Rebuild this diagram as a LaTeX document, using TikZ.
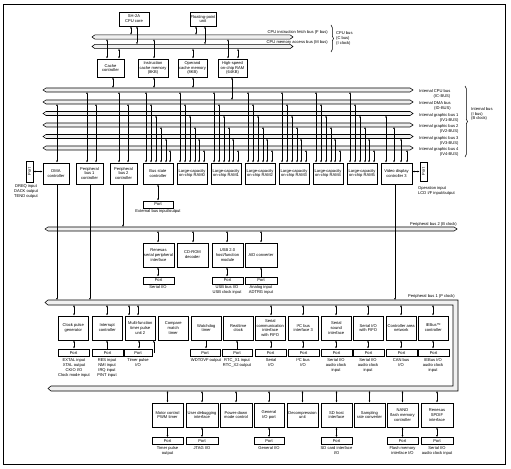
\documentclass[tikz,border=0pt]{standalone}
\usepackage{fontspec}
\usepackage{graphicx}
\setmainfont{Liberation Sans}
\usetikzlibrary{arrows.meta,decorations.pathreplacing,calc}
\newcommand\ft{\fontsize{4.1}{4.9}\selectfont}
\newcommand\bx[6]{\node[blk, minimum width={((#4)-(#2))*1bp}, minimum height={((#5)-(#3))*1bp}] (#1) at ({((#2)+(#4))/2},{((#3)+(#5))/2}) {#6};}
\newcommand\vl[4]{\draw[#1] (#2,0 |- #3) -- (#2,0 |- #4);}
\newcommand\hbus[4]{\draw[bus] (#1,#3) -- ({#1+3},{#3-#4}) -- ({#2-3},{#3-#4}) -- (#2,#3) -- ({#2-3},{#3+#4}) -- ({#1+3},{#3+#4}) -- cycle;}
\begin{document}
\begin{tikzpicture}[x=1bp,y=-1bp,
  blk/.style={draw, line width=0.8bp, align=center, inner sep=0pt, font=\ft},
  lbl/.style={align=center, anchor=north, inner sep=0pt, font=\ft},
  txt/.style={inner sep=0pt, font=\ft},
  dar/.style={line width=0.55bp, {Latex[length=2bp,width=1.8bp]}-{Latex[length=2bp,width=1.8bp]}},
  sar/.style={line width=0.55bp, -{Latex[length=2bp,width=1.8bp]}},
  bus/.style={draw, line width=0.55bp, fill=black!6},
  brc/.style={draw, line width=0.5bp, decorate, decoration={brace, amplitude=2.5bp}}]
\useasboundingbox (0,0) rectangle (511,469);
\fill[white] (0,0) rectangle (511,469);
\draw[line width=0.9bp] (3,4) rectangle (505,464);

% ---------- bus edge coordinates
\coordinate (Ft) at (0,34.8); \coordinate (Fb) at (0,39.2);
\coordinate (Mt) at (0,44.3); \coordinate (Mb) at (0,48.7);
\coordinate (B1t) at (0,88);  \coordinate (B1b) at (0,92);
\coordinate (B2t) at (0,100); \coordinate (B2b) at (0,104);
\coordinate (B3t) at (0,111.5); \coordinate (B3b) at (0,115.5);
\coordinate (B4t) at (0,123); \coordinate (B4b) at (0,127);
\coordinate (B5t) at (0,134.5); \coordinate (B5b) at (0,138.5);
\coordinate (B6t) at (0,146); \coordinate (B6b) at (0,150);
\coordinate (PB2t) at (0,227); \coordinate (PB2b) at (0,231);
\coordinate (P1t) at (0,300); \coordinate (P1b) at (0,305);
\coordinate (P1lb) at (0,391);

% ---------- buses
\hbus{92}{293}{37}{2.2}
\hbus{92}{293}{46.5}{2.2}
\foreach \y in {90,102,113.5,125,136.5,148}{\hbus{43}{413}{\y}{2}}
\hbus{45}{457}{229}{2}
\draw[bus] (45,302.5) -- (48,300) -- (458,300) -- (458,391) -- (51,391) -- (48,388.5) -- (51,386) -- (453,386) -- (453,305) -- (48,305) -- cycle;

% ---------- bus labels
\node[txt, anchor=east, fill=white] (lf) at (328,32.3) {CPU instruction fetch bus (F bus)};
\node[txt, anchor=east, fill=white] (lm) at (328,42.2) {CPU memory access bus (M bus)};
\draw[brc] (331,25) -- (331,52);
\node[txt, anchor=west, align=left] (lc) at (336,38.5) {CPU bus\\(C bus)\\(I clock)};
\node[txt, anchor=north west, align=right] (l1) at (419,89.5) {Internal CPU bus\\(IC-BUS)};
\node[txt, anchor=north west, align=right] (l2) at (419,101.5) {Internal DMA bus\\(ID-BUS)};
\node[txt, anchor=north west, align=right] (l3) at (419,113) {Internal graphic bus 1\\(IV1-BUS)};
\node[txt, anchor=north west, align=right] (l4) at (419,124.5) {Internal graphic bus 2\\(IV2-BUS)};
\node[txt, anchor=north west, align=right] (l5) at (419,136) {Internal graphic bus 3\\(IV3-BUS)};
\node[txt, anchor=north west, align=right] (l6) at (419,147.5) {Internal graphic bus 4\\(IV4-BUS)};
\draw[brc] (465,86) -- (465,157);
\node[txt, anchor=west, align=left] (li) at (471,114) {Internal bus\\(I bus)\\(B clock)};
\node[txt, anchor=south east] (lp2) at (457,226.5) {Peripheral bus 2 (B clock)};
\node[txt, anchor=south east] (lp1) at (455,298.5) {Peripheral bus 1 (P clock)};

% ---------- CPU area
\bx{core}{119}{12}{149}{26}{SH-2A\\CPU core}
\bx{fpu}{190}{12}{216}{26}{Floating-point\\unit}
\bx{cc}{97}{59}{124}{77}{Cache\\controller}
\bx{ic}{138}{59}{168}{77}{Instruction\\cache memory\\(8KB)}
\bx{oc}{178}{59}{207}{77}{Operand\\cache memory\\(8KB)}
\bx{hr}{218}{59}{247}{77}{High-speed\\on-chip RAM\\(64KB)}
\vl{dar}{131}{core.south}{Ft}
\vl{dar}{137}{core.south}{Mt}
\vl{dar}{196}{fpu.south}{Ft}
\vl{dar}{205}{fpu.south}{Mt}
\vl{dar}{107}{Fb}{cc.north}
\vl{dar}{119}{Mb}{cc.north}
\vl{dar}{154}{Fb}{ic.north}
\vl{dar}{193}{Mb}{oc.north}
\vl{dar}{228}{Fb}{hr.north}
\vl{dar}{238}{Mb}{hr.north}
\vl{dar}{113}{cc.south}{B1t}
\vl{dar}{154}{ic.south}{B1t}
\vl{dar}{193}{oc.south}{B1t}
\vl{dar}{232}{hr.south}{B2t}

% ---------- main row
\bx{lp}{26}{161}{33}{182}{\rotatebox{90}{Port}}
\bx{dma}{43}{163}{69}{184}{DMA\\controller}
\bx{pbc1}{76}{163}{103}{184}{Peripheral\\bus 1\\controller}
\bx{pbc2}{110}{163}{137}{184}{Peripheral\\bus 2\\controller}
\bx{bsc}{143}{163}{173}{184}{Bus state\\controller}
\foreach \a/\n in {177/0,211/1,245/2,279/3,313/4,347/5}{
  \bx{ram\n}{\a}{163}{\a+30}{184}{Large-capacity\\on-chip RAM\n}
  \vl{dar}{\a+3}{B1b}{ram\n.north}
  \vl{dar}{\a+8}{B2b}{ram\n.north}
  \vl{dar}{\a+13}{B3b}{ram\n.north}
  \vl{dar}{\a+18}{B4b}{ram\n.north}
  \vl{dar}{\a+22}{B5b}{ram\n.north}
  \vl{dar}{\a+27}{B6b}{ram\n.north}
}
\bx{vdc}{381}{163}{412}{184}{Video display\\controller 3}
\bx{rp}{420}{162}{427}{181}{\rotatebox{90}{Port}}
\vl{dar}{57}{B2b}{dma.north}
\vl{dar}{87}{B1b}{pbc1.north}
\vl{dar}{96}{B2b}{pbc1.north}
\vl{dar}{119}{B1b}{pbc2.north}
\vl{dar}{128}{B2b}{pbc2.north}
\vl{dar}{146}{B1b}{bsc.north}
\vl{dar}{151}{B2b}{bsc.north}
\vl{dar}{156}{B3b}{bsc.north}
\vl{dar}{161}{B4b}{bsc.north}
\vl{dar}{166}{B5b}{bsc.north}
\vl{dar}{170}{B6b}{bsc.north}
\vl{dar}{386}{B3b}{vdc.north}
\vl{dar}{394}{B4b}{vdc.north}
\vl{dar}{401}{B5b}{vdc.north}
\vl{dar}{407}{B6b}{vdc.north}
\draw[dar] (lp.east) -- (lp.east -| dma.west);
\draw[dar] (vdc.east |- rp.west) -- (rp.west);
\node[lbl] (lpl) at (26,184.5) {DREQ input\\DACK output\\TEND output};
\node[txt, anchor=north west, align=left] (rpl) at (418,186) {Operation input\\LCD I/F input/output};

% ---------- below main row
\vl{sar}{57}{dma.south}{P1t}
\vl{sar}{90}{pbc1.south}{P1t}
\vl{sar}{123}{pbc2.south}{PB2t}
\bx{bscp}{143}{201}{173}{208}{Port}
\vl{dar}{158}{bsc.south}{bscp.north}
\node[lbl] (bscl) at (158,209.8) {External bus input/output};
\vl{sar}{395}{vdc.south}{P1t}

% ---------- peripheral bus 2 modules
\bx{rspi}{143}{243}{174}{267}{Renesas\\serial peripheral\\interface}
\bx{cdr}{177}{243}{208}{267}{CD-ROM\\decoder}
\bx{usb}{212}{243}{243}{267}{USB 2.0\\host/function\\module}
\bx{adc}{245}{243}{277}{267}{A/D converter}
\vl{dar}{158}{PB2b}{rspi.north}
\vl{dar}{193}{PB2b}{cdr.north}
\vl{dar}{227}{PB2b}{usb.north}
\vl{dar}{261}{PB2b}{adc.north}
\bx{rspip}{143}{277}{174}{284}{Port}
\bx{usbp}{212}{277}{243}{284}{Port}
\bx{adcp}{245}{277}{277}{284}{Port}
\vl{dar}{158}{rspi.south}{rspip.north}
\vl{dar}{227}{usb.south}{usbp.north}
\vl{sar}{261}{adcp.north}{adc.south}
\node[lbl] (rspil) at (158,285.5) {Serial I/O};
\node[lbl] (usbl) at (227,285.5) {USB bus I/O\\USB clock input};
\node[lbl] (adcl) at (261,285.5) {Analog input\\ADTRG input};

% ---------- row A (peripheral bus 1, upper)
\bx{cpg}{58}{316}{88.5}{340}{Clock pulse\\generator}
\bx{intc}{92}{316}{122.5}{340}{Interrupt\\controller}
\bx{mtu}{125}{316}{155.5}{340}{Multi-function\\timer pulse\\unit 2}
\bx{cmt}{158}{316}{188.5}{340}{Compare\\match\\timer}
\bx{wdt}{191}{316}{221.5}{340}{Watchdog\\timer}
\bx{rtc}{223}{316}{253.5}{340}{Realtime\\clock}
\bx{scif}{255}{316}{285.5}{340}{Serial\\communication\\interface\\with FIFO}
\bx{riic}{288}{316}{318.5}{340}{I²C bus\\interface 3}
\bx{ssi}{321}{316}{351.5}{340}{Serial\\sound\\interface}
\bx{siof}{353}{316}{383.5}{340}{Serial I/O\\with FIFO}
\bx{can}{386}{316}{416.5}{340}{Controller area\\network}
\bx{ieb}{418}{316}{448.5}{340}{IEBus™\\controller}
\vl{dar}{74}{P1b}{cpg.north}
\vl{dar}{107}{P1b}{intc.north}
\vl{dar}{129}{P1b}{mtu.north}
\vl{dar}{138}{P1b}{mtu.north}
\vl{dar}{271}{P1b}{scif.north}
\vl{dar}{303}{P1b}{riic.north}
\vl{dar}{336}{P1b}{ssi.north}
\vl{dar}{368}{P1b}{siof.north}
\vl{dar}{401}{P1b}{can.north}
\vl{dar}{433}{P1b}{ieb.north}
\bx{cpgp}{58}{349}{89}{356.5}{Port}
\bx{intcp}{92}{349}{123}{356.5}{Port}
\bx{mtup}{124}{349}{152}{356.5}{Port}
\bx{wdtp}{190}{349}{220}{356.5}{Port}
\bx{rtcp}{222}{349}{252}{356.5}{Port}
\bx{scifp}{255}{349}{286}{356.5}{Port}
\bx{riicp}{288}{349}{319}{356.5}{Port}
\bx{ssip}{321}{349}{352}{356.5}{Port}
\bx{siofp}{353}{349}{384}{356.5}{Port}
\bx{canp}{386}{349}{417}{356.5}{Port}
\bx{iebp}{418}{349}{449}{356.5}{Port}
\vl{dar}{74}{cpg.south}{cpgp.north}
\vl{sar}{107}{intcp.north}{intc.south}
\vl{dar}{139}{mtu.south}{mtup.north}
\vl{sar}{153.8}{mtup.east}{mtu.south}
\vl{sar}{206}{wdt.south}{wdtp.north}
\vl{sar}{237}{rtcp.north}{rtc.south}
\vl{dar}{271}{scif.south}{scifp.north}
\vl{dar}{303}{riic.south}{riicp.north}
\vl{dar}{336}{ssi.south}{ssip.north}
\vl{dar}{368}{siof.south}{siofp.north}
\vl{dar}{401}{can.south}{canp.north}
\vl{dar}{433}{ieb.south}{iebp.north}
\node[lbl] (cpgl) at (74,358.5) {EXTAL input\\XTAL output\\CKIO I/O\\Clock mode input};
\node[lbl] (intcl) at (107,358.5) {RES input\\NMI input\\IRQ input\\PINT input};
\node[lbl] (mtul) at (138,358.5) {Timer pulse\\I/O};
\node[lbl] (wdtl) at (206,358.5) {WDTOVF output};
\node[lbl] (rtcl) at (237,358.5) {RTC\_X1 input\\RTC\_X2 output};
\node[lbl] (scifl) at (271,358.5) {Serial\\I/O};
\node[lbl] (riicl) at (303,358.5) {I²C bus\\I/O};
\node[lbl] (ssil) at (336,358.5) {Serial I/O\\audio clock\\input};
\node[lbl] (siofl) at (368,358.5) {Serial I/O\\audio clock\\input};
\node[lbl] (canl) at (401,358.5) {CAN bus\\I/O};
\node[lbl] (iebl) at (433,358.5) {IEBus I/O\\audio clock\\input};

% ---------- row B (peripheral bus 1, lower)
\bx{pwm}{152}{403}{183}{427}{Motor control\\PWM timer}
\bx{udi}{186}{403}{218}{427}{User debugging\\interface}
\bx{pdm}{220}{403}{252}{427}{Power-down\\mode control}
\bx{gpio}{254}{403}{284}{427}{General\\I/O port}
\bx{dcu}{287}{403}{318}{427}{Decompression\\unit}
\bx{sdh}{321}{403}{352}{427}{SD host\\interface}
\bx{src}{354}{403}{385}{427}{Sampling\\rate converter}
\bx{nand}{387}{403}{418}{427}{NAND\\flash memory\\controller}
\bx{spdif}{421}{403}{453}{427}{Renesas\\SPDIF\\interface}
\foreach \n in {pwm,udi,pdm,gpio,dcu,sdh,src,nand,spdif}{
  \draw[dar] (\n.north |- P1lb) -- (\n.north);
}
\bx{pwmp}{152}{437.5}{183}{444.5}{Port}
\bx{udip}{186}{437.5}{218}{444.5}{Port}
\bx{gpiop}{254}{437.5}{284}{444.5}{Port}
\bx{sdhp}{321}{437.5}{352}{444.5}{Port}
\bx{nandp}{387}{437.5}{418}{444.5}{Port}
\bx{spdifp}{421}{437.5}{453}{444.5}{Port}
\draw[sar] (pwm.south) -- (pwmp.north);
\draw[dar] (udi.south) -- (udip.north);
\draw[dar] (gpio.south) -- (gpiop.north);
\draw[dar] (sdh.south) -- (sdhp.north);
\draw[dar] (nand.south) -- (nandp.north);
\draw[dar] (spdif.south) -- (spdifp.north);
\node[lbl] (pwml) at (167.5,446) {Timer pulse\\output};
\node[lbl] (udil) at (202,446) {JTAG I/O};
\node[lbl] (gpiol) at (269,446) {General I/O};
\node[lbl] (sdhl) at (336.5,446) {SD card interface\\I/O};
\node[lbl] (nandl) at (402.5,446) {Flash memory\\interface I/O};
\node[lbl] (spdifl) at (437,446) {Serial I/O\\audio clock input};
\end{tikzpicture}
\end{document}
